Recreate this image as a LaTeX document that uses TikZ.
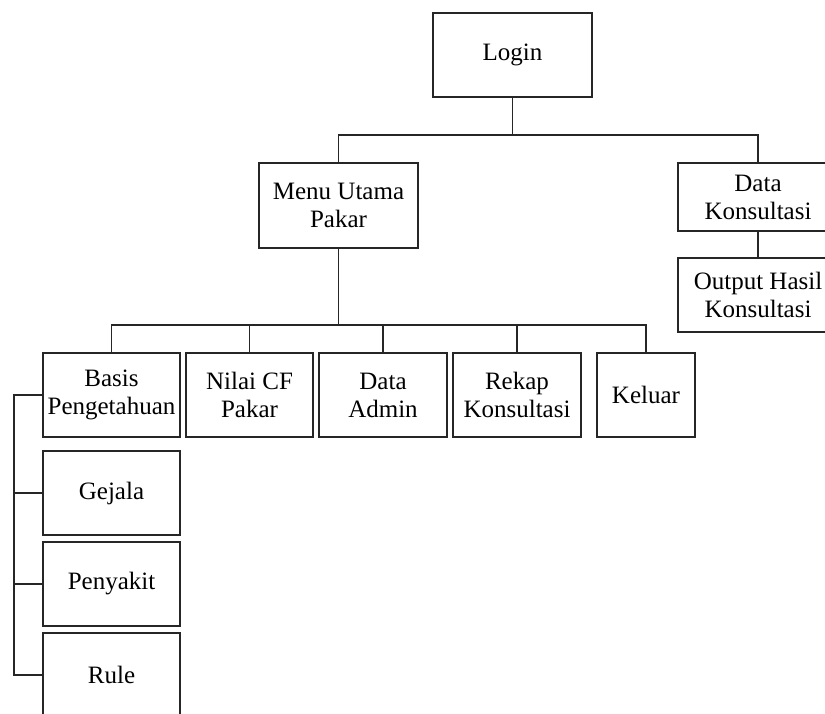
\documentclass[tikz,border=0pt]{standalone}
\usepackage{fontspec}
\setmainfont{Liberation Serif}
\begin{document}
\begin{tikzpicture}[x=1pt,y=-1pt,
  box/.style args={#1x#2}{draw=black!85, line width=1.2pt, fill=white,
    minimum width=#1pt, minimum height=#2pt, inner sep=0pt, align=center,
    font=\fontsize{25}{28}\selectfont},
  link/.style={draw=black!85, line width=1.2pt}]
\useasboundingbox (0,0) rectangle (825,713);
\clip (0,0) rectangle (825,713);

% bus coordinates
\coordinate (top) at (0,135);
\coordinate (mid) at (0,325);
\coordinate (side) at (14,0);

% nodes
\node[box=159x84] (login) at (512.5,55) {Login};
\node[box=159x85] (menu) at (338.5,205.5) {Menu Utama\\Pakar};
\node[box=160x68] (dkons) at (758,197) {Data\\Konsultasi};
\node[box=160x74] (out) at (758,295) {Output Hasil\\Konsultasi};

\node[box=137x84] (basis) at (111.5,395) {Basis\\Pengetahuan};
\node[box=127x84] (nilai) at (249.5,395) {Nilai CF\\Pakar};
\node[box=128x84] (admin) at (383,395) {Data\\Admin};
\node[box=128x84] (rekap) at (517,395) {Rekap\\Konsultasi};
\node[box=98x84] (keluar) at (646,395) {Keluar};

\node[box=137x84] (gejala) at (111.5,493) {Gejala};
\node[box=137x84] (penyakit) at (111.5,584) {Penyakit};
\node[box=137x84] (rule) at (111.5,675) {Rule};

% connectors: top level
\draw[link] (login.south) -- (login.south |- top);
\draw[link] (menu.north) -- (menu.north |- top) -- (dkons.north |- top) -- (dkons.north);
\draw[link] (dkons.south) -- (out.north);

% connectors: menu children
\draw[link] (menu.south) -- (menu.south |- mid);
\draw[link] (basis.north) -- (basis.north |- mid) -- (keluar.north |- mid) -- (keluar.north);
\draw[link] (nilai.north |- mid) -- (nilai.north);
\draw[link] (admin.north |- mid) -- (admin.north);
\draw[link] (rekap.north |- mid) -- (rekap.north);

% connectors: knowledge base children
\draw[link] (basis.west) -- (basis.west -| side) -- (rule.west -| side) -- (rule.west);
\draw[link] (gejala.west -| side) -- (gejala.west);
\draw[link] (penyakit.west -| side) -- (penyakit.west);
\end{tikzpicture}
\end{document}
